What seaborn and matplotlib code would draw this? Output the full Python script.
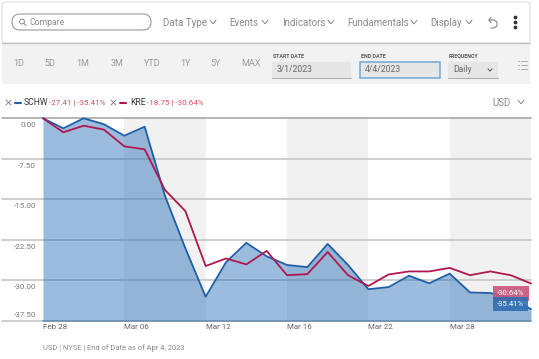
import numpy as np
import pandas as pd
import matplotlib
matplotlib.use('Agg')
import matplotlib.pyplot as plt
from matplotlib.patches import FancyBboxPatch, Rectangle
from matplotlib.transforms import ScaledTranslation
import seaborn as sns

# ---- data ----
schw = [0.0, -1.86, 0.0, -1.11, -3.23, -1.56, -14.4, -24.1, -33.1, -26.7, -23.1, -25.6, -27.2,
        -27.6, -23.3, -27.2, -31.7, -31.3, -29.2, -30.6, -28.8, -32.3, -32.4, -33.3, -35.41]
kre = [0.0, -2.6, -1.37, -2.11, -5.2, -5.76, -13.3, -17.2, -27.4, -26.0, -27.1, -24.6, -29.1,
       -28.9, -24.8, -29.1, -31.1, -28.96, -28.4, -28.4, -27.74, -29.1, -28.4, -29.1, -30.64]
y_ticks = [0.0, -7.5, -15.0, -22.5, -30.0, -37.5]
y_labels = ['0.00', '-7.50', '-15.00', '-22.50', '-30.00', '-37.50']
x_ticks = [0, 4, 8, 12, 16, 20]
x_labels = ['Feb 28', 'Mar 06', 'Mar 12', 'Mar 16', 'Mar 22', 'Mar 28']
bands = [(4, 8), (12, 16), (20, 24)]

range_btns = ['1D', '5D', '1M', '3M', 'YTD', '1Y', '5Y', 'MAX']
range_x = [19, 50, 83, 117, 152, 185, 216, 251]
menu_items = ['Data Type', 'Events', 'Indicators', 'Fundamentals', 'Display']
menu_x = [163, 229, 282, 347, 430]
menu_chev = [213, 265, 331, 414, 469]

BLUE = '#1f5fa8'
RED = '#b0174f'
NEG = '#d4505f'

sns.set_style('white')
plt.rcParams['font.family'] = ['Roboto', 'DejaVu Sans']

days = np.arange(len(schw))
df = pd.DataFrame({'day': np.r_[days, days], 'pct': schw + kre,
                   'ticker': ['SCHW'] * len(schw) + ['KRE'] * len(kre)})

fig = plt.figure(figsize=(5.39, 3.59), dpi=100)
W, H = 539, 359

# ---- overlay in pixel coords for the toolbar bits ----
ui = fig.add_axes([0, 0, 1, 1], zorder=0)
ui.set_xlim(0, W)
ui.set_ylim(H, 0)
ui.axis('off')


def chevron(x, y, c='#888888', s=3):
    ui.plot([x - s, x, x + s], [y - s * 0.6, y + s * 0.6, y - s * 0.6], color=c, lw=0.7)


def label(x, y, txt, c='#8a8a8a', fs=7, **kw):
    ui.text(x, y, txt, color=c, fontsize=fs, va='center', ha=kw.pop('ha', 'left'), **kw)


ui.add_patch(FancyBboxPatch((2, 2), 528, 41, boxstyle='round,pad=0,rounding_size=3', fc='white', ec='#dddddd', lw=0.8))
ui.plot([2, 530], [43, 43], color='#c4c4c4', lw=1)
ui.add_patch(Rectangle((2, 44), 528, 40, fc='#f2f2f2', ec='none'))

ui.add_patch(FancyBboxPatch((12, 14), 139, 16, boxstyle='round,pad=0,rounding_size=8', fc='white', ec='#9a9a9a', lw=0.8))
ui.add_patch(plt.Circle((22, 21.5), 2.4, fc='none', ec='#888888', lw=0.7))
ui.plot([24, 26], [23.5, 25.5], color='#888888', lw=0.7)
label(30, 22.5, 'Compare', fs=6.2)

for mx, chx, item in zip(menu_x, menu_chev, menu_items):
    label(mx, 22.5, item, fs=7)
    chevron(chx, 22)

# undo arrow + kebab
ui.plot([489, 494, 497, 497, 494, 491], [20, 20, 22, 26, 28, 28], color='#777777', lw=0.7)
ui.plot([491, 489, 491], [17.5, 20, 22.5], color='#777777', lw=0.7)
ui.scatter([515, 515, 515], [17, 22, 27], s=3, color='#333333')

for bx, b in zip(range_x, range_btns):
    label(bx, 63.5, b, ha='center', fs=6.5, c='#9a9a9a')

for x0, x1, head, val in [(272, 351, 'START DATE', '3/1/2023'), (448, 498, 'FREQUENCY', 'Daily')]:
    label(x0 + 1, 56, head, c='#555555', fs=3.8, fontweight='bold')
    ui.add_patch(Rectangle((x0, 62), x1 - x0, 16, fc='#e6e6e6', ec='none'))
    ui.plot([x0, x1], [78, 78], color='#a8a8a8', lw=0.7)
    label(x0 + 5, 70, val, c='#666666', fs=6.2)
chevron(490, 70, c='#555555', s=2)
label(361, 56, 'END DATE', c='#555555', fs=3.8, fontweight='bold')
ui.add_patch(Rectangle((360, 62), 80, 16, fc='#e6e6e6', ec='#6fa8d6', lw=1.1))
label(365, 70, '4/4/2023', c='#666666', fs=6.2)
for ly in [61, 65, 69]:
    ui.plot([518, 519], [ly, ly], color='#aaaaaa', lw=0.7)
    ui.plot([521, 527], [ly, ly], color='#aaaaaa', lw=0.7)

# legend row
ui.plot([6, 11], [100, 105], color='#777777', lw=0.6)
ui.plot([6, 11], [105, 100], color='#777777', lw=0.6)
ui.plot([15, 21], [102.5, 102.5], color=BLUE, lw=1.5)
label(24, 102.5, 'SCHW', c='#333333', fs=6.2)
label(49, 102.5, '-27.41 | -35.41%', c=NEG, fs=5.8)
ui.plot([111, 116], [100, 105], color='#777777', lw=0.6)
ui.plot([111, 116], [105, 100], color='#777777', lw=0.6)
ui.plot([120, 126], [102.5, 102.5], color=RED, lw=1.5)
label(130, 102.5, 'KRE', c='#333333', fs=6.2)
label(147, 102.5, '-18.75 | -30.64%', c=NEG, fs=5.8)
label(492, 102.5, 'USD', c='#8a8a8a', fs=7)
chevron(521, 102)

label(43, 348.5, 'USD | NYSE | End of Date as of Apr 4, 2023', c='#8a8a8a', fs=5.4)

# ---- main chart ----
ax = fig.add_axes([43 / W, 1 - 320.5 / H, 488 / W, (320.5 - 118.3) / H], zorder=1)
ax.patch.set_alpha(0)
ax.set_xlim(0, 24)
ax.set_ylim(-37.5, 0)
sns.despine(ax=ax, left=True, top=True, right=True, bottom=True)

for b0, b1 in bands:
    ax.axvspan(b0, b1, color='#f1f1f1', lw=0, zorder=0)
trans = ax.get_yaxis_transform()
for i, yv in enumerate(y_ticks):
    ax.plot([-41 / 488, 1], [yv, yv], transform=trans, clip_on=False, lw=1.2,
            color='#a8a8a8' if i == 0 else '#c6c6c6', zorder=1)

ax.fill_between(days, schw, -37.5, color='#1e68b4', alpha=0.44, lw=0, zorder=2)
sns.lineplot(data=df, x='day', y='pct', hue='ticker', hue_order=['SCHW', 'KRE'],
             palette=[BLUE, RED], lw=1.3, legend=False, ax=ax, zorder=3, clip_on=False)
ax.plot([0, 24], [-37.5, -37.5], color='#6f8fb4', lw=1.2, clip_on=False, zorder=2)

ax.set_xlabel('')
ax.set_ylabel('')
ax.set_xticks(x_ticks)
ax.set_xticklabels(x_labels, ha='left', fontsize=5.8, color='#666666')
ax.set_yticks(y_ticks)
ax.set_yticklabels(y_labels, fontsize=5.8, color='#777777')
ax.tick_params(axis='both', length=0)
ax.tick_params(axis='x', pad=2.5)
ax.tick_params(axis='y', pad=5)
# labels sit just under their gridline, the last one just above it
for t, lab in enumerate(ax.get_yticklabels()):
    last = t == len(y_ticks) - 1
    lab.set_verticalalignment('bottom' if last else 'top')
    shift = 1.5 if last else -3
    lab.set_transform(lab.get_transform() + ScaledTranslation(0, shift / 72, fig.dpi_scale_trans))

# end-of-line value badges
ax.annotate('-30.64%', (24, kre[-1]), xytext=(-14.5, -7), textcoords='offset points',
            ha='center', va='center', fontsize=5.6, color='white', annotation_clip=False,
            bbox=dict(boxstyle='square,pad=0.6', fc='#c9547c', ec='none', alpha=0.9), zorder=5)
ax.annotate('-35.41%', (24, schw[-1]), xytext=(-14.5, 4), textcoords='offset points',
            ha='center', va='center', fontsize=5.6, color='white', annotation_clip=False,
            bbox=dict(boxstyle='square,pad=0.5', fc='#2f6fb3', ec='none', alpha=0.9), zorder=5)

fig.savefig('out.png', dpi=100)
